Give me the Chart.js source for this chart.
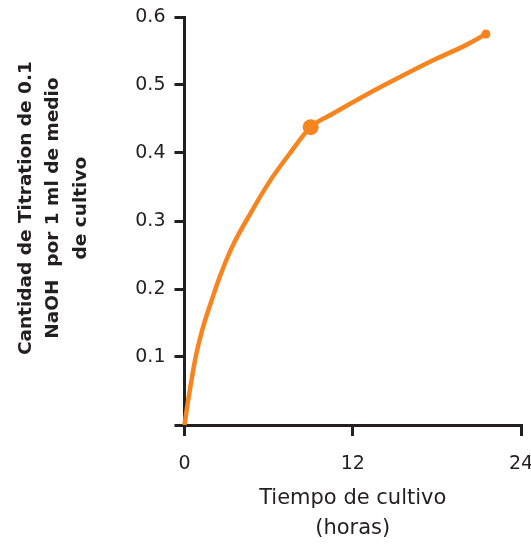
<!DOCTYPE html>
<html>
<head>
<meta charset="utf-8">
<script src="https://cdn.jsdelivr.net/npm/chart.js@4"></script>
<style>
  html, body { margin: 0; padding: 0; background: #fff; overflow: hidden; }
</style>
</head>
<body>
<canvas id="titrationChart" width="541" height="544"></canvas>
<script>
// values
const hours = [0, 0.3, 0.8, 1.3, 1.9, 2.5, 3.4, 4.7, 6.1, 7.5, 9, 10.6, 13, 15.4, 17.8, 20.1, 21.5];
const titration = [0, 0.041, 0.1, 0.142, 0.181, 0.217, 0.262, 0.311, 0.359, 0.399, 0.438, 0.458, 0.486, 0.512, 0.537, 0.559, 0.575];
const markedHours = [9, 21.5];
const xTicks = [0, 12, 24];
const yTicks = [0, 0.1, 0.2, 0.3, 0.4, 0.5, 0.6];

const ink = '#231f20';
const orange = '#f7851f';

document.addEventListener('DOMContentLoaded', () => {
  const ctx = document.getElementById('titrationChart').getContext('2d');

  const config = {
    type: 'line',
    data: {
      datasets: [{
        data: hours.map((h, i) => ({ x: h, y: titration[i] })),
        borderColor: orange,
        backgroundColor: orange,
        borderWidth: 4.5,
        cubicInterpolationMode: 'monotone',
        pointRadius: (c) => {
          const h = hours[c.dataIndex];
          if (h === markedHours[0]) return 8;
          if (h === markedHours[1]) return 4.5;
          return 0;
        },
        pointBorderWidth: 0,
        clip: false
      }]
    },
    options: {
      responsive: false,
      animation: false,
      events: [],
      layout: { padding: { left: 12, top: 17, right: 20, bottom: 0 } },
      plugins: {
        legend: { display: false },
        tooltip: { enabled: false }
      },
      scales: {
        x: {
          type: 'linear',
          min: 0,
          max: 24,
          afterBuildTicks: (s) => { s.ticks = xTicks.map(v => ({ value: v })); },
          // the "24" label is allowed to run off the right edge, as in the original
          afterFit: (s) => { s.paddingLeft = 0; s.paddingRight = 0; s.height = 119; },
          border: { display: true, color: ink, width: 3 },
          grid: { drawOnChartArea: false, drawTicks: true, tickLength: 11, color: ink, lineWidth: 3 },
          ticks: {
            padding: 17,
            color: ink,
            maxRotation: 0,
            font: { family: 'DejaVu Sans', size: 19 }
          },
          title: {
            display: true,
            text: ['Tiempo de cultivo', '(horas)'],
            color: ink,
            font: { family: 'DejaVu Sans', size: 21, lineHeight: 1.43 },
            padding: { top: 0, bottom: 0 }
          }
        },
        y: {
          min: 0,
          max: 0.6,
          afterBuildTicks: (s) => { s.ticks = yTicks.map(v => ({ value: v })); },
          afterFit: (s) => { s.paddingTop = 0; s.paddingBottom = 0; },
          border: { display: true, color: ink, width: 3 },
          grid: { drawOnChartArea: false, drawTicks: true, tickLength: 10, color: ink, lineWidth: 3 },
          ticks: {
            padding: 9,
            color: ink,
            font: { family: 'DejaVu Sans', size: 19 },
            callback: (v) => (v === 0 ? '' : v.toFixed(1))
          },
          title: {
            display: true,
            text: ['    Cantidad de Titration de 0.1', '    NaOH  por 1 ml de medio', '    de cultivo'],
            color: ink,
            font: { family: 'DejaVu Sans', size: 18.5, weight: 'bold', lineHeight: 1.5 },
            padding: { top: 0, bottom: 31 }
          }
        }
      }
    }
  };

  new Chart(ctx, config);
});
</script>
</body>
</html>
